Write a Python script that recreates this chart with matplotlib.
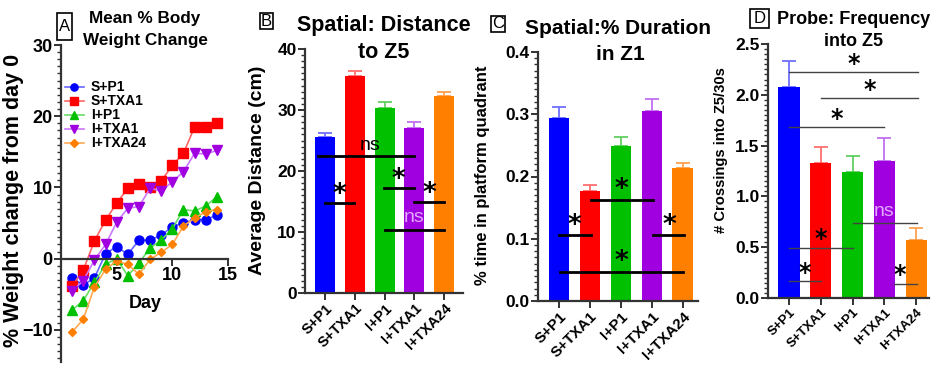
import matplotlib
matplotlib.use('Agg')
import matplotlib.pyplot as plt
from matplotlib.patches import Rectangle
from matplotlib.ticker import MultipleLocator, FormatStrFormatter

plt.rcParams['font.family'] = ['Liberation Sans', 'DejaVu Sans']
plt.rcParams['font.weight'] = 'bold'
plt.rcParams['axes.labelweight'] = 'bold'

W, H = 942, 375

groups = ['S+P1', 'S+TXA1', 'I+P1', 'I+TXA1', 'I+TXA24']
bar_colors = ['#0000FF', '#FF0000', '#00C000', '#A000E0', '#FF8000']
err_colors = ['#7070FF', '#FF7070', '#60D060', '#C070F0', '#FFA050']
line_colors = ['#6666FF', '#FF6666', '#66DD66', '#CC77FF', '#FFAA55']
markers = ['o', 's', '^', 'v', 'D']
msizes = [6.5, 6.5, 6.5, 6.5, 4.5]

# panel A: mean % body weight change
days = [1, 2, 3, 4, 5, 6, 7, 8, 9, 10, 11, 12, 13, 14]
wt_sp1 = [-2.7, -3.7, -2.7, 0.7, 1.7, 0.6, 2.6, 2.6, 3.3, 4.5, 5.0, 5.5, 5.5, 6.1]
wt_stxa1 = [-3.8, -1.6, 2.5, 5.4, 7.8, 9.9, 10.5, 10.0, 10.9, 13.1, 14.8, 18.5, 18.5, 19.1]
wt_ip1 = [-7.2, -5.9, -3.3, -0.8, 0.0, -2.4, -0.6, 1.5, 2.6, 4.2, 6.9, 6.7, 7.4, 8.7]
wt_itxa1 = [-4.5, -3.1, -0.2, 2.0, 5.1, 7.1, 7.3, 9.9, 9.5, 10.8, 12.2, 14.8, 14.7, 15.2]
wt_itxa24 = [-10.3, -8.5, -4.0, -1.5, -0.3, -0.8, -2.2, -0.1, 0.9, 2.0, 4.6, 5.7, 6.6, 6.9]
weights = [wt_sp1, wt_stxa1, wt_ip1, wt_itxa1, wt_itxa24]

# panel B: distance to Z5
dist_mean = [25.5, 35.6, 30.4, 27.0, 32.3]
dist_sem = [0.8, 0.8, 0.9, 1.0, 0.7]
# comparison lines: (from, to, height); labels: (x, y, text, colour)
dist_lines = [(-0.25, 2.97, 22.4), (0.0, 0.97, 14.7), (1.98, 2.97, 17.2),
              (3.0, 4.0, 14.9), (2.02, 3.98, 10.4)]
dist_marks = [(1.5, 24.2, 'ns', 'black'), (0.47, 16.0, '*', 'black'),
              (2.48, 18.5, '*', 'black'), (3.5, 16.2, '*', 'black'),
              (3.0, 12.4, 'ns', '#E3A8FF')]

# panel C: % duration in Z1
dur_mean = [0.294, 0.176, 0.249, 0.305, 0.213]
dur_sem = [0.017, 0.010, 0.015, 0.020, 0.009]
dur_lines = [(0.0, 1.03, 0.106), (1.04, 3.03, 0.163), (3.03, 4.05, 0.106),
             (0.04, 4.01, 0.047)]
dur_marks = [(0.5, 0.121, '*', 'black'), (2.03, 0.178, '*', 'black'),
             (3.56, 0.121, '*', 'black'), (2.03, 0.063, '*', 'black')]

# panel D: probe frequency into Z5
freq_mean = [2.08, 1.33, 1.24, 1.35, 0.57]
freq_sem = [0.25, 0.16, 0.16, 0.22, 0.12]
freq_lines = [(0.0, 4.04, 2.22), (1.0, 4.04, 1.97), (0.0, 3.0, 1.68),
              (2.0, 4.02, 0.74), (0.0, 2.0, 0.49), (0.0, 1.0, 0.17),
              (3.3, 4.02, 0.14)]
freq_marks = [(2.03, 2.30, '*', 'black'), (2.53, 2.05, '*', 'black'),
              (1.5, 1.76, '*', 'black'), (3.0, 0.85, 'ns', '#E3A8FF'),
              (1.0, 0.58, '*', 'black'), (0.5, 0.25, '*', 'black'),
              (3.48, 0.23, '*', 'black')]

fig = plt.figure(figsize=(W / 100, H / 100), dpi=100)


def px_axes(l, t, r, b):
    return fig.add_axes([l / W, 1 - b / H, (r - l) / W, (b - t) / H])


def px_text(x, y, s, **kw):
    fig.text(x / W, 1 - y / H, s, ha='center', va='center', **kw)


def style(ax, minor, size=12.5):
    for s in ['top', 'right']:
        ax.spines[s].set_visible(False)
    for s in ['left', 'bottom']:
        ax.spines[s].set_linewidth(1.6)
        ax.spines[s].set_color('#333333')
    ax.yaxis.set_minor_locator(MultipleLocator(minor))
    ax.tick_params(axis='both', which='major', length=5, width=1.4,
                   color='#333333', labelsize=size, pad=1)
    ax.tick_params(axis='y', which='minor', length=3, width=1, color='#333333')


def letter_box(x0, y0, x1, y1, s):
    fig.patches.append(Rectangle((x0 / W, 1 - y1 / H), (x1 - x0) / W, (y1 - y0) / H,
                                 transform=fig.transFigure, fill=False,
                                 edgecolor='black', linewidth=1.2))
    px_text((x0 + x1) / 2, (y0 + y1) / 2, s, fontsize=12, fontweight='normal')


# ---- A ----
axA = px_axes(61, 45, 228, 362)
for i in range(5):
    axA.plot(days, weights[i], color=line_colors[i], lw=1.2, marker=markers[i],
             ms=msizes[i], mfc=bar_colors[i], mec=bar_colors[i], label=groups[i])
axA.set_xlim(0, 15)
axA.set_ylim(-14.5, 30)
axA.spines['bottom'].set_position(('data', 0))
axA.set_xticks([5, 10, 15])
axA.set_yticks([-10, 0, 10, 20, 30])
style(axA, 1, 13)
axA.legend(loc='upper left', bbox_to_anchor=(-0.02, 0.91), frameon=False,
           fontsize=10, labelspacing=0.0, handlelength=1.4, handletextpad=0.5,
           borderpad=0, markerscale=0.8)
px_text(145, 304, 'Day', fontsize=13)
px_text(14, 200, '% Weight change from day 0', rotation=90, fontsize=15.5)
px_text(145, 18, 'Mean % Body', fontsize=12.3)
px_text(145, 40, 'Weight Change', fontsize=12.3)
letter_box(57, 13, 72, 40, 'A')


def bar_panel(rect, means, sems, ylim, yticks, minor, lines, marks,
              line_kw, xlab_size, star_size, xlim):
    ax = px_axes(*rect)
    x = list(range(len(groups)))
    ax.bar(x, means, width=0.67, color=bar_colors, zorder=2)
    for i in x:
        ax.errorbar(i, means[i], yerr=[[0], [sems[i]]], color=err_colors[i],
                    capsize=5, capthick=1.3, elinewidth=1.3, zorder=1)
    for x0, x1, y in lines:
        ax.plot([x0, x1], [y, y], zorder=3, **line_kw)
    for xm, ym, s, c in marks:
        if s == '*':
            ax.text(xm, ym, s, color=c, ha='center', va='center', zorder=4,
                    fontsize=star_size, fontweight='bold', family='DejaVu Sans')
        else:
            ax.text(xm, ym, s, color=c, ha='center', va='center', zorder=4,
                    fontsize=14, fontweight='normal')
    ax.set_xlim(*xlim)
    ax.set_ylim(*ylim)
    ax.set_yticks(yticks)
    ax.set_xticks(x)
    style(ax, minor)
    ax.set_xticklabels(groups, rotation=45, ha='right', rotation_mode='anchor',
                       fontsize=xlab_size)
    return ax


# ---- B ----
axB = bar_panel((305, 49, 463, 293), dist_mean, dist_sem, (0, 40),
                [0, 10, 20, 30, 40], 1, dist_lines, dist_marks,
                dict(color='black', lw=2), 10.5, 19, (-0.67, 4.63))
px_text(257, 170, 'Average Distance (cm)', rotation=90, fontsize=14)
px_text(384, 25, 'Spatial: Distance', fontsize=15.5)
px_text(384, 52, 'to Z5', fontsize=15.5)
letter_box(260, 13, 273, 29, 'B')

# ---- C ----
axC = bar_panel((538, 52, 698, 301), dur_mean, dur_sem, (0, 0.4),
                [0.0, 0.1, 0.2, 0.3, 0.4], 0.01, dur_lines, dur_marks,
                dict(color='black', lw=2), 11, 19, (-0.68, 4.49))
axC.yaxis.set_major_formatter(FormatStrFormatter('%.1f'))
px_text(482, 175, '% time in platform quadrant', rotation=90, fontsize=12)
px_text(618, 28, 'Spatial:% Duration', fontsize=15)
px_text(620, 55, 'in Z1', fontsize=15)
letter_box(491, 16, 505, 32, 'C')

# ---- D ----
axD = bar_panel((768, 44, 929, 298), freq_mean, freq_sem, (0, 2.5),
                [0.0, 0.5, 1.0, 1.5, 2.0, 2.5], 0.05, freq_lines, freq_marks,
                dict(color='#444444', lw=1), 9.5, 17, (-0.66, 4.4))
axD.yaxis.set_major_formatter(FormatStrFormatter('%.1f'))
px_text(721, 150, '# Crossings into Z5/30s', rotation=90, fontsize=10.6)
px_text(854, 20, 'Probe: Frequency', fontsize=13)
px_text(854, 42, 'into Z5', fontsize=13)
letter_box(750, 9, 769, 28, 'D')

fig.savefig('out.png', dpi=100)
